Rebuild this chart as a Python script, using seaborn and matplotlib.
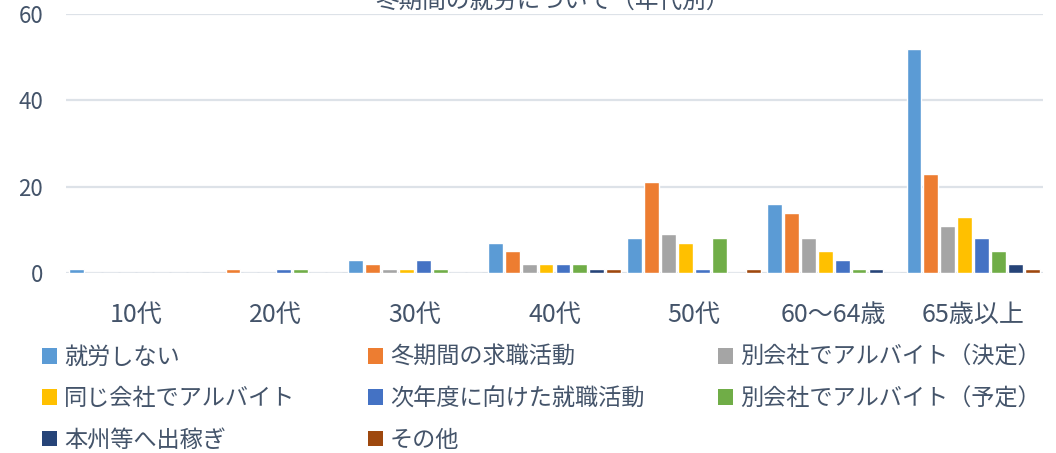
import matplotlib
matplotlib.use("Agg")
import matplotlib.pyplot as plt
from matplotlib.patches import Patch
import seaborn as sns
import pandas as pd

categories = ["10代", "20代", "30代", "40代", "50代", "60〜64歳", "65歳以上"]
series = ["就労しない", "冬期間の求職活動", "別会社でアルバイト（決定）",
          "同じ会社でアルバイト", "次年度に向けた就職活動", "別会社でアルバイト（予定）",
          "本州等へ出稼ぎ", "その他"]
v_shuro_shinai = [1, 0, 3, 7, 8, 16, 52]
v_kyushoku = [0, 1, 2, 5, 21, 14, 23]
v_betsu_kettei = [0, 0, 1, 2, 9, 8, 11]
v_onaji = [0, 0, 1, 2, 7, 5, 13]
v_jinendo = [0, 1, 3, 2, 1, 3, 8]
v_betsu_yotei = [0, 1, 1, 2, 8, 1, 5]
v_dekasegi = [0, 0, 0, 1, 0, 1, 2]
v_sonota = [0, 0, 0, 1, 1, 0, 1]
values = [v_shuro_shinai, v_kyushoku, v_betsu_kettei, v_onaji,
          v_jinendo, v_betsu_yotei, v_dekasegi, v_sonota]
colors = ["#5B9BD5", "#ED7D31", "#A5A5A5", "#FFC000",
          "#4472C4", "#70AD47", "#264478", "#9E480E"]
title = "冬期間の就労について（年代別）"

rows = []
for s, vals in zip(series, values):
    for c, v in zip(categories, vals):
        rows.append({"category": c, "series": s, "value": v})
df = pd.DataFrame(rows)

sns.set_theme(style="white")
plt.rcParams["font.family"] = ["Noto Sans CJK JP", "DejaVu Sans"]
txt_color = "#44546A"

fig = plt.figure(figsize=(10.56, 4.53), dpi=100)
ax = fig.add_axes([66 / 1056, 180 / 453, (1043 - 66) / 1056, 259 / 453])

sns.barplot(data=df, x="category", y="value", hue="series", order=categories,
            hue_order=series, palette=colors, width=0.97, gap=0.12,
            saturation=1, ax=ax, legend=False, errorbar=None)

ax.set_ylim(0, 60)
ax.set_yticks([0, 20, 40, 60])
ax.set_xlim(-0.5, len(categories) - 0.5)
ax.grid(axis="y", color="#DDE2E8", linewidth=1.6)
ax.set_axisbelow(True)
for sp in ax.spines.values():
    sp.set_visible(False)
ax.set_xlabel("")
ax.set_ylabel("")
ax.tick_params(axis="y", labelsize=16, colors=txt_color, length=0, pad=16.5)
ax.tick_params(axis="x", labelsize=18, colors=txt_color, length=0, pad=21)

fig.text(552 / 1056, 1.0 - 1 / 453, title, ha="center", va="center",
         fontsize=17, color=txt_color)

handles = [Patch(facecolor=c, edgecolor="none") for c in colors]
col_idx = [[0, 3, 6], [1, 4, 7], [2, 5]]
col_x = [42, 368, 718]
for xi, idx in zip(col_x, col_idx):
    leg = fig.legend([handles[i] for i in idx], [series[i] for i in idx],
                     loc="upper left", bbox_to_anchor=(xi / 1056, 1 - 346 / 453),
                     frameon=False, fontsize=16.7, handlelength=0.65, handleheight=0.65,
                     handletextpad=0.3, labelspacing=0.79, borderpad=0, borderaxespad=0)
    for t in leg.get_texts():
        t.set_color(txt_color)

fig.savefig("out.png", dpi=100)
